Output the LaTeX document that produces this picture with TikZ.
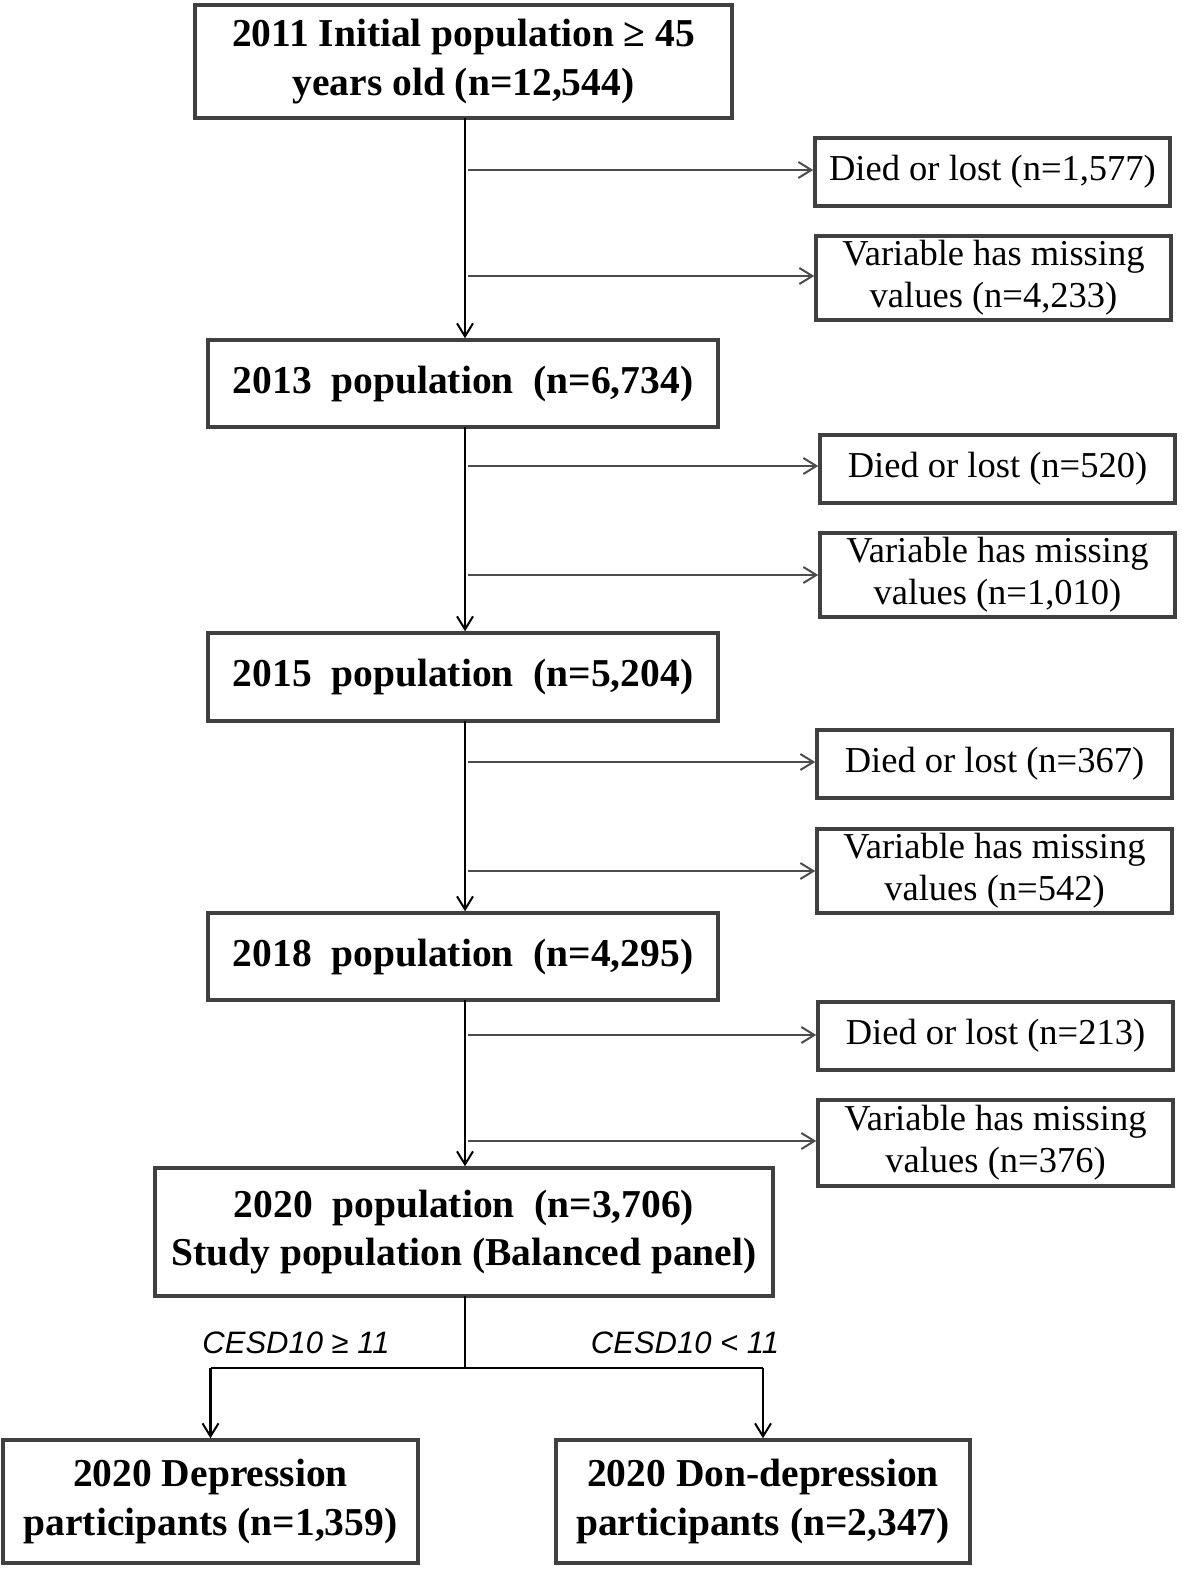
\documentclass[tikz,border=0pt]{standalone}
\usepackage{fontspec}
\setmainfont{Liberation Serif}
\newfontfamily\labfont{Liberation Sans}
\usetikzlibrary{arrows.meta}
\begin{document}
\begin{tikzpicture}[x=1pt,y=-1pt,
  mainbox/.style={draw=black!75, line width=3.5pt, fill=white, align=center, inner sep=0pt,
     font=\fontsize{39.5}{48.5}\selectfont\bfseries},
  sidebox/.style={draw=black!75, line width=3.5pt, fill=white, align=center, inner sep=0pt,
     minimum width=355pt, font=\fontsize{36.5}{42}\selectfont},
  mainline/.style={line width=2.5pt, black},
  mainarrow/.style={mainline, -{Straight Barb[length=13pt,width=16pt,line width=2pt]}},
  sidearrow/.style={line width=2pt, black!70, -{Straight Barb[length=13pt,width=16pt,line width=2pt]}},
  cesd/.style={font=\fontsize{31}{36}\selectfont\labfont\itshape, inner sep=0pt}
]
\useasboundingbox (0,0) rectangle (1181,1570);
\fill[white] (0,0) rectangle (1181,1570);

\node[mainbox, minimum width=537pt, minimum height=113pt] (b1) at (463.5,61.5) {2011 Initial population ≥ 45\\years old (n=12,544)};
\node[sidebox, minimum height=68pt] (d1) at (992.5,172) {Died or lost (n=1,577)};
\node[sidebox, minimum height=84pt] (v1) at (993.5,278) {Variable has missing\\values (n=4,233)};

\node[mainbox, minimum width=510pt, minimum height=87pt] (b2) at (463,383.5) {2013\ \ population\ \ (n=6,734)};
\node[sidebox, minimum height=68pt] (d2) at (997.5,469) {Died or lost (n=520)};
\node[sidebox, minimum height=84pt] (v2) at (997.5,575) {Variable has missing\\values (n=1,010)};

\node[mainbox, minimum width=510pt, minimum height=88pt] (b3) at (463,677) {2015\ \ population\ \ (n=5,204)};
\node[sidebox, minimum height=68pt] (d3) at (994.5,764) {Died or lost (n=367)};
\node[sidebox, minimum height=84pt] (v3) at (994.5,871) {Variable has missing\\values (n=542)};

\node[mainbox, minimum width=510pt, minimum height=87pt] (b4) at (463,956.5) {2018\ \ population\ \ (n=4,295)};
\node[sidebox, minimum height=68pt] (d4) at (995.5,1036) {Died or lost (n=213)};
\node[sidebox, minimum height=86pt] (v4) at (995.5,1143) {Variable has missing\\values (n=376)};

\node[mainbox, minimum width=618pt, minimum height=128pt] (b5) at (464,1232) {2020\ \ population\ \ (n=3,706)\\Study population (Balanced panel)};

\node[mainbox, minimum width=415pt, minimum height=123pt] (bl) at (210.5,1501.5) {2020 Depression\\participants (n=1,359)};
\node[mainbox, minimum width=414pt, minimum height=123pt] (br) at (763,1501.5) {2020 Don-depression\\participants (n=2,347)};

% main flow
\draw[mainarrow] (465,118) coordinate (s1) -- (s1 |- b2.north);
\draw[mainarrow] (465,427) coordinate (s2) -- (s2 |- b3.north);
\draw[mainarrow] (465,721) coordinate (s3) -- (s3 |- b4.north);
\draw[mainarrow] (465,1000) coordinate (s4) -- (s4 |- b5.north);

% side arrows
\coordinate (j1) at (468,170);
\coordinate (k1) at (468,276);
\coordinate (j2) at (468,466);
\coordinate (k2) at (468,575);
\coordinate (j3) at (468,762);
\coordinate (k3) at (468,871);
\coordinate (j4) at (468,1035);
\coordinate (k4) at (468,1141);
\draw[sidearrow] (j1) -- (j1 -| d1.west);
\draw[sidearrow] (k1) -- (k1 -| v1.west);
\draw[sidearrow] (j2) -- (j2 -| d2.west);
\draw[sidearrow] (k2) -- (k2 -| v2.west);
\draw[sidearrow] (j3) -- (j3 -| d3.west);
\draw[sidearrow] (k3) -- (k3 -| v3.west);
\draw[sidearrow] (j4) -- (j4 -| d4.west);
\draw[sidearrow] (k4) -- (k4 -| v4.west);

% split
\coordinate (sp) at (465,1368);
\draw[mainline] (465,1296) coordinate (s5) -- (sp);
\draw[mainline] (sp -| bl.north) -- (sp -| br.north);
\draw[mainarrow] (sp -| bl.north) -- (bl.north);
\draw[mainarrow] (sp -| br.north) -- (br.north);

\node[cesd] (c1) at (296,1343) {CESD10 ≥ 11};
\node[cesd] (c2) at (685,1343) {CESD10 < 11};
\end{tikzpicture}
\end{document}
